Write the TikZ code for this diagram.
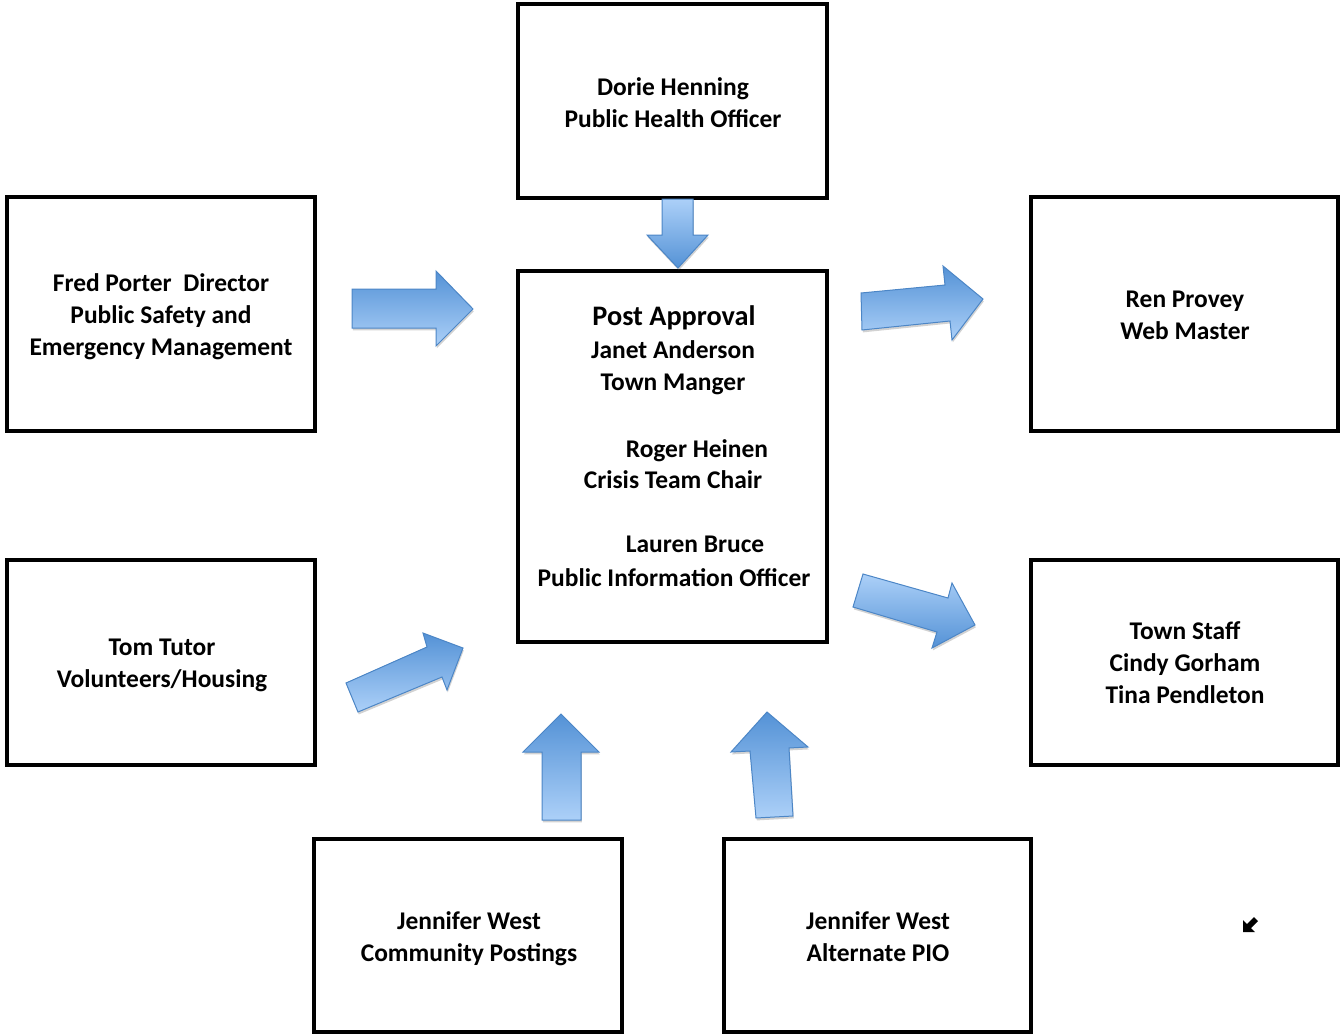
\documentclass[tikz,border=0pt]{standalone}
\usepackage{fontspec}
\setmainfont{Carlito}
\usetikzlibrary{shadows}
\definecolor{adark}{RGB}{84,146,214}
\definecolor{alight}{RGB}{172,208,248}
\definecolor{aline}{RGB}{76,134,198}
\begin{document}
\begin{tikzpicture}[x=0.75pt,y=-0.75pt,
  box/.style={draw=black, line width=3pt, inner sep=0pt},
  blabel/.style={align=center, inner sep=0pt, font=\bfseries\fontsize{19.1}{24}\selectfont},
  txt/.style={anchor=base, inner sep=0pt, font=\bfseries\fontsize{19.1}{24}\selectfont},
  bigtxt/.style={txt, font=\bfseries\fontsize{21.2}{26}\selectfont},
  barrow/.style={draw=aline, line width=0.75pt,
    drop shadow={shadow xshift=0.6pt, shadow yshift=-1.8pt, opacity=0.25, fill=black!70}},
  dkup/.style={barrow, top color=adark, bottom color=alight},
  dkdown/.style={barrow, top color=alight, bottom color=adark}
  ]
\useasboundingbox (0,0) rectangle (1340,1036);

% boxes
\node[box, minimum width=231.75pt, minimum height=145.5pt] (dorie) at (672.5,101) {};
\node[box, minimum width=231pt, minimum height=175.5pt] (fred) at (161,314) {};
\node[box, minimum width=231.75pt, minimum height=278.25pt] (post) at (672.5,456.5) {};
\node[box, minimum width=230.25pt, minimum height=175.5pt] (ren) at (1184.5,314) {};
\node[box, minimum width=231pt, minimum height=153.75pt] (tom) at (161,662.5) {};
\node[box, minimum width=230.25pt, minimum height=153.75pt] (staff) at (1184.5,662.5) {};
\node[box, minimum width=231pt, minimum height=144.75pt] (jen1) at (468,935.5) {};
\node[box, minimum width=230.25pt, minimum height=144.75pt] (jen2) at (877.5,935.5) {};

% box texts
\node[blabel] (doriet) at (673,103) {Dorie Henning\\Public Health Officer};
\node[blabel] (fredt) at (161,317) {Fred Porter~ Director\\Public Safety and\\Emergency Management};
\node[blabel] (rent) at (1185,315.5) {Ren Provey\\Web Master};
\node[blabel] (tomt) at (162,665.5) {Tom Tutor\\Volunteers/Housing};
\node[blabel] (stafft) at (1185,663) {Town Staff\\Cindy Gorham\\Tina Pendleton};
\node[blabel] (jen1t) at (469,938.5) {Jennifer West\\Community Postings};
\node[blabel] (jen2t) at (878,936.5) {Jennifer West\\Alternate PIO};

% center texts
\node[bigtxt] (pa) at (674,325) {Post Approval};
\node[txt] (janet) at (673,358) {Janet Anderson};
\node[txt] (tm) at (673,390) {Town Manger};
\node[txt] (roger) at (697,457) {Roger Heinen};
\node[txt] (ctc) at (673,488) {Crisis Team Chair};
\node[txt] (lauren) at (695,552) {Lauren Bruce};
\node[txt] (pio) at (674,586) {Public Information Officer};

% block arrows
% Fred -> center
\shade[dkup] (352,289) -- (436,289) -- (436,271) -- (473,309) -- (436,346) -- (436,328) -- (352,328) -- cycle;
% Dorie -> center
\shade[dkdown] (662,199) -- (693,199) -- (693,235) -- (708,235) -- (678,268) -- (647,235) -- (662,235) -- cycle;
% center -> Ren
\shade[dkup] (861,293) -- (945,285) -- (943,266) -- (983,299) -- (952,340) -- (950,321) -- (862,330) -- cycle;
% center -> staff
\shade[dkdown] (863,574) -- (948,598) -- (952,583) -- (975,625) -- (932,648) -- (937,632) -- (853,607) -- cycle;
% Tom -> center
\shade[dkup] (346,683) -- (427,647) -- (423,633) -- (463,648) -- (447,690) -- (442,677) -- (358,712) -- cycle;
% jen1 -> center
\shade[dkup] (561,714) -- (599,752) -- (581,752) -- (581,820) -- (542,820) -- (542,752) -- (523,752) -- cycle;
% jen2 -> center
\shade[dkup] (767,712) -- (808,747) -- (789,748) -- (793,816) -- (756,818) -- (750,751) -- (731,752) -- cycle;

% stray small arrow glyph
\fill[black] (1243,920) -- (1243,932) -- (1255,932) -- (1251,928) -- (1258,921) -- (1254,917) -- (1247,924) -- cycle;
\end{tikzpicture}
\end{document}
